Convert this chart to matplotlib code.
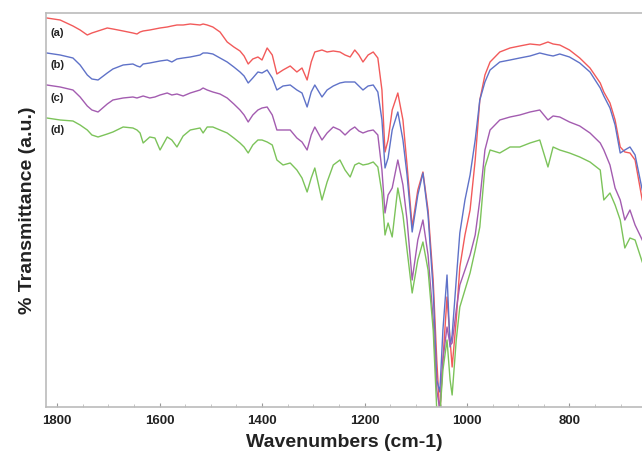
import matplotlib
matplotlib.use("Agg")
import matplotlib.pyplot as plt
from matplotlib.ticker import MultipleLocator

# wavenumbers (cm-1)
wn = [1820, 1794, 1769, 1755, 1741, 1732, 1720, 1702, 1691, 1671,
      1652, 1644, 1638, 1632, 1619, 1609, 1599, 1585, 1576, 1566,
      1554, 1540, 1521, 1515, 1507, 1496, 1482, 1468, 1455, 1443,
      1435, 1427, 1418, 1408, 1400, 1390, 1380, 1371, 1359, 1345,
      1332, 1322, 1312, 1304, 1297, 1283, 1273, 1261, 1248, 1238,
      1228, 1219, 1211, 1203, 1193, 1183, 1174, 1166, 1160, 1154,
      1146, 1135, 1125, 1117, 1107, 1096, 1086, 1076, 1066, 1059,
      1053, 1047, 1039, 1033, 1029, 1021, 1014, 1004, 994, 984,
      975, 965, 955, 936, 916, 897, 877, 858, 842, 832,
      819, 800, 780, 760, 740, 733, 721, 711, 701, 692,
      682, 672, 658]

# transmittance, arbitrary units (offset spectra)
trans_a = [389, 387, 381, 377, 372, 374, 376, 379, 378, 376,
           374, 373, 375, 376, 377, 378, 379, 380, 381, 382,
           382, 383, 382, 383, 382, 380, 375, 365, 360, 356,
           351, 343, 348, 350, 347, 359, 352, 333, 337, 341,
           335, 339, 327, 345, 355, 357, 355, 356, 355, 352,
           350, 357, 352, 345, 352, 355, 349, 317, 255, 267,
           297, 314, 287, 242, 180, 217, 235, 197, 127, 47,
           -8, 47, 110, 67, 40, 87, 140, 172, 197, 247,
           307, 332, 345, 355, 359, 361, 363, 362, 365, 363,
           362, 357, 349, 339, 324, 315, 304, 287, 260, 255,
           254, 247, 207]

trans_b = [354, 352, 349, 342, 332, 328, 327, 334, 338, 342,
           343, 341, 340, 343, 344, 345, 346, 347, 345, 348,
           349, 350, 352, 354, 354, 353, 349, 345, 340, 335,
           331, 324, 329, 335, 334, 337, 329, 317, 321, 322,
           317, 314, 300, 315, 322, 310, 317, 321, 324, 325,
           325, 325, 321, 317, 321, 322, 315, 287, 239, 249,
           277, 295, 267, 232, 175, 212, 234, 192, 117, 27,
           15, 77, 132, 60, 72, 127, 174, 207, 232, 267,
           307, 325, 337, 345, 347, 349, 351, 354, 352, 351,
           353, 350, 344, 335, 319, 311, 299, 282, 254, 257,
           260, 252, 217]

trans_c = [322, 320, 317, 310, 301, 297, 295, 303, 307, 309,
           310, 309, 310, 311, 309, 310, 312, 314, 312, 313,
           311, 314, 317, 319, 317, 315, 313, 309, 303, 297,
           292, 285, 292, 297, 299, 300, 292, 277, 277, 277,
           269, 265, 257, 272, 280, 267, 274, 280, 277, 272,
           277, 280, 276, 274, 276, 277, 272, 237, 194, 212,
           219, 247, 222, 187, 127, 167, 187, 152, 87, 17,
           -3, 47, 80, 62, 64, 97, 122, 137, 152, 172,
           207, 257, 277, 287, 290, 292, 295, 297, 287, 291,
           290, 285, 281, 274, 264, 257, 242, 219, 207, 187,
           197, 182, 167]

trans_d = [289, 287, 286, 282, 277, 272, 270, 273, 275, 280,
           279, 277, 274, 264, 270, 269, 257, 270, 267, 260,
           271, 277, 279, 274, 280, 280, 277, 274, 269, 264,
           260, 254, 262, 267, 267, 265, 262, 247, 242, 244,
           237, 229, 215, 229, 239, 207, 225, 242, 247, 237,
           230, 242, 244, 242, 243, 245, 240, 214, 172, 184,
           170, 219, 192, 157, 114, 147, 165, 137, 77, -3,
           -8, 37, 67, 27, 12, 67, 100, 117, 134, 157,
           180, 240, 257, 254, 260, 260, 264, 267, 240, 260,
           257, 254, 250, 245, 237, 207, 214, 202, 187, 159,
           169, 167, 145]

series = [trans_a, trans_b, trans_c, trans_d]
labels = ["(a)", "(b)", "(c)", "(d)"]
colors = ["#f25a5a", "#5f72c8", "#a35cb0", "#7cc35a"]
label_y = [0.949, 0.868, 0.784, 0.703]

plt.rcParams["font.family"] = ["Liberation Sans", "DejaVu Sans"]

fig = plt.figure(figsize=(6.42, 4.59), dpi=100)
ax = fig.add_axes([0.0717, 0.1133, 0.9283, 0.8584])

for y, c in zip(series, colors):
    ax.plot(wn, y, color=c, linewidth=1.0)

for lab, ly in zip(labels, label_y):
    ax.text(0.008, ly, lab, transform=ax.transAxes, fontsize=8,
            fontweight="bold", color="#222222", va="center", ha="left")

ax.set_xlim(1821.5, 658.5)
ax.set_ylim(0, 394)
ax.xaxis.set_major_locator(MultipleLocator(200))
ax.xaxis.set_minor_locator(MultipleLocator(50))
ax.set_yticks([])
ax.tick_params(axis="x", which="major", direction="in", length=3,
               color="#999999", labelsize=9.5, pad=6)
ax.tick_params(axis="x", which="minor", direction="in", length=2,
               color="#bbbbbb")
for lab in ax.get_xticklabels():
    lab.set_fontweight("bold")
    lab.set_color("#222222")

for side in ["left", "bottom", "top"]:
    ax.spines[side].set_color("#bbbbbb")
    ax.spines[side].set_linewidth(1.2)
ax.spines["right"].set_visible(False)

ax.set_xlabel("Wavenumbers (cm-1)", fontsize=14, fontweight="bold",
              color="#222222", labelpad=5)
ax.set_ylabel("% Transmittance (a.u.)", fontsize=14, fontweight="bold",
              color="#222222", labelpad=7)

fig.savefig("out.png", dpi=100, facecolor="white")
